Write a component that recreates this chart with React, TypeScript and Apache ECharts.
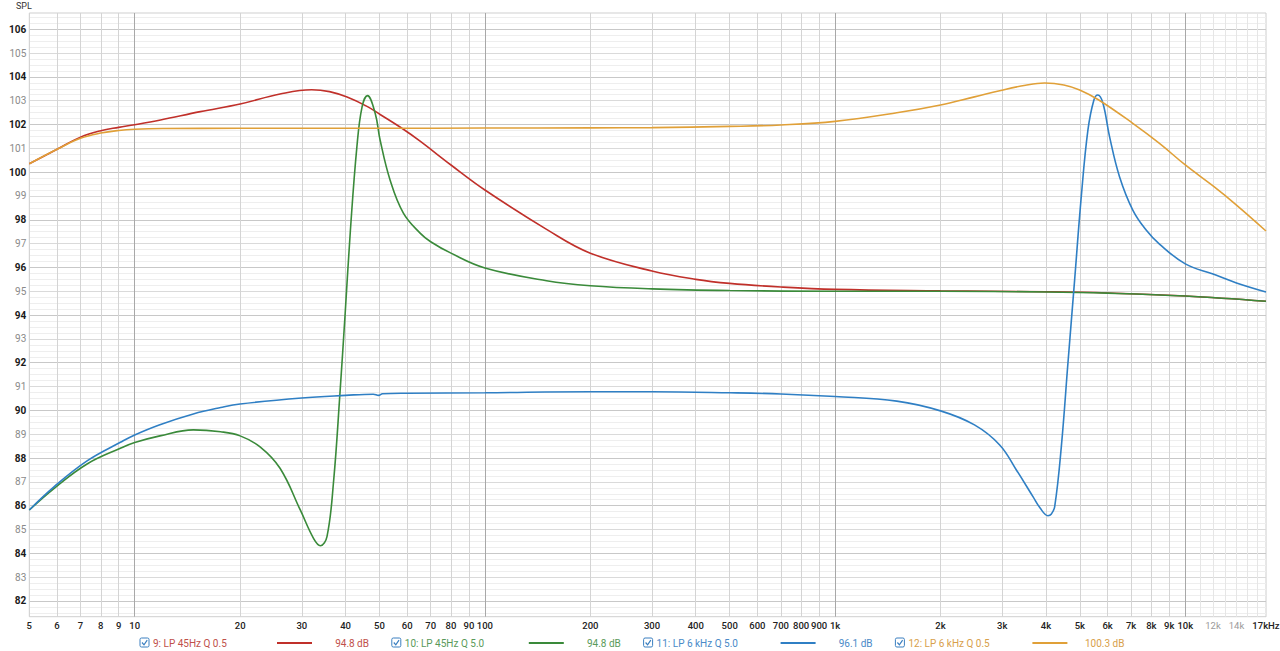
import React, { useEffect, useRef } from "react";
import * as echarts from "echarts";

// ---- data (frequency Hz, SPL dB) ----
const RED_F = [5, 6, 7, 8, 9, 10, 11.85, 15.4, 20, 26, 32, 36, 40.4, 46.2, 50.2, 58.5, 65.3, 80, 100, 150, 200, 300, 400, 500, 700, 1000, 2000, 4000, 6000, 10000, 17000];
const RED_V = [100.35, 100.96, 101.47, 101.74, 101.88, 101.99, 102.19, 102.54, 102.86, 103.28, 103.46, 103.38, 103.15, 102.75, 102.42, 101.8, 101.3, 100.3, 99.25, 97.6, 96.6, 95.85, 95.5, 95.33, 95.18, 95.08, 95.02, 94.98, 94.93, 94.8, 94.58];

const GREEN_F = [5, 5.89, 7.31, 9.1, 10, 11.8, 14.7, 17.6, 20, 22.8, 26, 29.7, 32.4, 33.9, 35.4, 37, 38.5, 39.9, 41.3, 43.1, 44.6, 46.2, 48.6, 50.2, 53.6, 58.5, 65.3, 70, 80, 100, 150, 200, 300, 500, 1000, 2000, 4000, 6000, 10000, 17000];
const GREEN_V = [85.82, 86.73, 87.75, 88.41, 88.65, 88.93, 89.18, 89.1, 88.93, 88.47, 87.57, 85.82, 84.63, 84.32, 84.7, 87.08, 90.58, 94.08, 97.57, 101.07, 102.75, 103.21, 102.47, 101.35, 99.67, 98.28, 97.44, 97.08, 96.6, 95.98, 95.44, 95.23, 95.1, 95.03, 95.0, 95.0, 94.97, 94.92, 94.8, 94.58];

const BLUE_F = [5, 5.89, 7.31, 9.1, 10, 11.8, 14.7, 17.6, 20, 30, 40, 48, 49.7, 51, 60, 100, 200, 300, 500, 700, 1000, 1500, 2000, 2500, 2951, 3293, 3673, 3850, 4053, 4140, 4237, 4426, 4622, 4830, 5046, 5272, 5483, 5627, 5817, 6077, 6489, 7080, 7730, 8438, 10000, 12000, 14000, 17000];
const BLUE_V = [85.82, 86.8, 87.88, 88.66, 88.97, 89.4, 89.85, 90.12, 90.27, 90.52, 90.63, 90.68, 90.63, 90.7, 90.72, 90.74, 90.78, 90.78, 90.74, 90.69, 90.58, 90.39, 89.98, 89.39, 88.55, 87.5, 86.38, 85.9, 85.58, 85.64, 85.96, 88.48, 91.98, 95.47, 98.97, 101.77, 103.03, 103.24, 102.9, 101.49, 99.81, 98.41, 97.57, 96.98, 96.15, 95.72, 95.35, 94.97];

const ORANGE_F = [5, 6, 7, 8, 9, 10, 12, 20, 50, 100, 200, 300, 500, 700, 1000, 1500, 2000, 2500, 2951, 3500, 3966, 4500, 4993, 5662, 7080, 8438, 10000, 12000, 14000, 17000];
const ORANGE_V = [100.35, 100.96, 101.42, 101.64, 101.75, 101.8, 101.83, 101.84, 101.84, 101.85, 101.86, 101.87, 101.92, 101.98, 102.13, 102.49, 102.82, 103.16, 103.42, 103.65, 103.74, 103.66, 103.45, 103.03, 102.05, 101.21, 100.3, 99.42, 98.62, 97.53];

const SERIES_NAMES = ["9: LP 45Hz Q 0.5", "10: LP 45Hz Q 5.0", "11: LP 6 kHz Q 5.0", "12: LP 6 kHz Q 0.5"];
const SERIES_READINGS = ["94.8 dB", "94.8 dB", "96.1 dB", "100.3 dB"];

// ---- axis ticks ----
const FREQ_GRID = [5, 6, 7, 8, 9, 10, 20, 30, 40, 50, 60, 70, 80, 90, 100, 200, 300, 400, 500, 600, 700, 800, 900, 1000, 2000, 3000, 4000, 5000, 6000, 7000, 8000, 9000, 10000, 11000, 12000, 13000, 14000, 15000, 16000, 17000];
const FREQ_LABEL_VALUES = [5, 6, 7, 8, 9, 10, 20, 30, 40, 50, 60, 70, 80, 90, 100, 200, 300, 400, 500, 600, 700, 800, 900, 1000, 2000, 3000, 4000, 5000, 6000, 7000, 8000, 9000, 10000, 12000, 14000, 17000];
const FREQ_LABELS = ["5", "6", "7", "8", "9", "10", "20", "30", "40", "50", "60", "70", "80", "90", "100", "200", "300", "400", "500", "600", "700", "800", "900", "1k", "2k", "3k", "4k", "5k", "6k", "7k", "8k", "9k", "10k", "12k", "14k", "17kHz"];
const SPL_TICKS = [82, 83, 84, 85, 86, 87, 88, 89, 90, 91, 92, 93, 94, 95, 96, 97, 98, 99, 100, 101, 102, 103, 104, 105, 106];
const SPL_MIN = 81.34;
const SPL_MAX = 106.68;
const SPL_MINOR_STEP = 0.25;

const LINE_COLORS = ["#c0302a", "#3a8a3a", "#2f7fc4", "#e0a038"];
const TEXT_COLORS = ["#c0504a", "#5a9a5a", "#4a8ac8", "#d8a04a"];

const FONT = "Roboto, 'Noto Sans', sans-serif";

function pairs(f: number[], v: number[]) {
  return f.map((x, i) => [x, v[i]]);
}

export default function App() {
  const ref = useRef<HTMLDivElement>(null);
  useEffect(() => {
    if (!ref.current) return;
    const chart = echarts.init(ref.current, undefined, { renderer: "svg" });

    const gridLines: any[] = [];
    // horizontal minor lines
    const nMinor = Math.round((SPL_MAX - SPL_MIN) / SPL_MINOR_STEP) + 2;
    for (let i = 0; i < nMinor; i++) {
      const v = Math.ceil(SPL_MIN / SPL_MINOR_STEP) * SPL_MINOR_STEP + i * SPL_MINOR_STEP;
      if (v >= SPL_MAX) break;
      if (Math.abs(v - Math.round(v)) < 1e-6) continue;
      gridLines.push({ yAxis: v, lineStyle: { color: "#eeeeee", width: 1, type: "solid" }, label: { show: false } });
    }
    // horizontal major lines with labels
    SPL_TICKS.forEach((v) => {
      const even = v % 2 === 0;
      gridLines.push({
        yAxis: v,
        lineStyle: { color: even ? "#c8c8c8" : "#dadada", width: 1, type: "solid" },
        label: {
          show: true,
          position: "start",
          formatter: String(v),
          color: even ? "#1a1a1a" : "#8a8a8a",
          fontWeight: even ? "bold" : "normal",
          fontSize: 10,
          fontFamily: FONT,
          distance: 3,
        },
      });
    });
    // vertical lines
    FREQ_GRID.forEach((f) => {
      const isDecade = [10, 100, 1000, 10000].includes(f);
      const color = isDecade ? "#a8a8a8" : f > 10000 ? "#e6e6e6" : "#d4d4d4";
      const li = FREQ_LABEL_VALUES.indexOf(f);
      const item: any = { xAxis: f, lineStyle: { color, width: 1, type: "solid" } };
      if (li >= 0) {
        const grey = f === 12000 || f === 14000;
        item.label = {
          show: true,
          position: "start",
          formatter: FREQ_LABELS[li],
          color: grey ? "#9a9a9a" : "#222",
          fontSize: 9.5,
          fontFamily: FONT,
          fontWeight: grey ? "normal" : 500,
          distance: 4,
        };
      } else {
        item.label = { show: false };
      }
      gridLines.push(item);
    });

    const curves = [pairs(RED_F, RED_V), pairs(GREEN_F, GREEN_V), pairs(BLUE_F, BLUE_V), pairs(ORANGE_F, ORANGE_V)];

    const legendGraphics: any[] = [];
    const legendY = 643;
    SERIES_NAMES.forEach((name, i) => {
      const x0 = 140 + i * 251.8;
      legendGraphics.push({
        type: "rect",
        shape: { x: x0, y: legendY - 5, width: 9, height: 9, r: 1.5 },
        style: { fill: "#fff", stroke: "#3a7fc0", lineWidth: 1 },
      });
      legendGraphics.push({
        type: "polyline",
        shape: { points: [[x0 + 2, legendY - 0.5], [x0 + 4, legendY + 1.8], [x0 + 7.2, legendY - 2.8]] },
        style: { stroke: "#3a7fc0", lineWidth: 1.2, fill: null },
      });
      legendGraphics.push({
        type: "text",
        x: x0 + 13,
        y: legendY,
        style: { text: name, fill: TEXT_COLORS[i], font: `10px ${FONT}`, verticalAlign: "middle", textAlign: "left" },
      });
      legendGraphics.push({
        type: "line",
        shape: { x1: x0 + 137, y1: legendY, x2: x0 + 172, y2: legendY },
        style: { stroke: LINE_COLORS[i], lineWidth: 2 },
      });
      legendGraphics.push({
        type: "text",
        x: x0 + 229,
        y: legendY,
        style: { text: SERIES_READINGS[i], fill: TEXT_COLORS[i], font: `10px ${FONT}`, verticalAlign: "middle", textAlign: "right" },
      });
    });
    legendGraphics.push({
      type: "text",
      x: 16,
      y: 6,
      style: { text: "SPL", fill: "#333", font: `9px ${FONT}`, verticalAlign: "middle", textAlign: "left" },
    });

    const option: any = {
      animation: false,
      grid: { left: 29.3, right: 14, top: 13, bottom: 34.3, show: true, borderColor: "#cfcfcf", borderWidth: 1, backgroundColor: "#fff" },
      xAxis: {
        type: "log",
        logBase: 10,
        min: 5,
        max: 17000,
        axisLine: { show: false },
        axisTick: { show: false },
        axisLabel: { show: false },
        splitLine: { show: false },
      },
      yAxis: {
        type: "value",
        min: SPL_MIN,
        max: SPL_MAX,
        axisLine: { show: false },
        axisTick: { show: false },
        axisLabel: { show: false },
        splitLine: { show: false },
      },
      graphic: legendGraphics,
      series: [
        {
          type: "line",
          z: 1,
          silent: true,
          data: [[10, 90]],
          showSymbol: false,
          symbol: "none",
          lineStyle: { width: 0, opacity: 0 },
          markLine: { silent: true, z: 1, symbol: ["none", "none"], animation: false, data: gridLines },
        },
        ...curves.map((d, i) => ({
          type: "line",
          name: SERIES_NAMES[i],
          z: 10 + i,
          data: d,
          showSymbol: false,
          symbol: "none",
          smooth: 0.4,
          lineStyle: { color: LINE_COLORS[i], width: 1.6 },
        })),
      ],
    };
    chart.setOption(option);
    return () => chart.dispose();
  }, []);

  return <div ref={ref} style={{ position: "fixed", left: 0, top: 0, width: 1280, height: 651, background: "#fff" }} />;
}
